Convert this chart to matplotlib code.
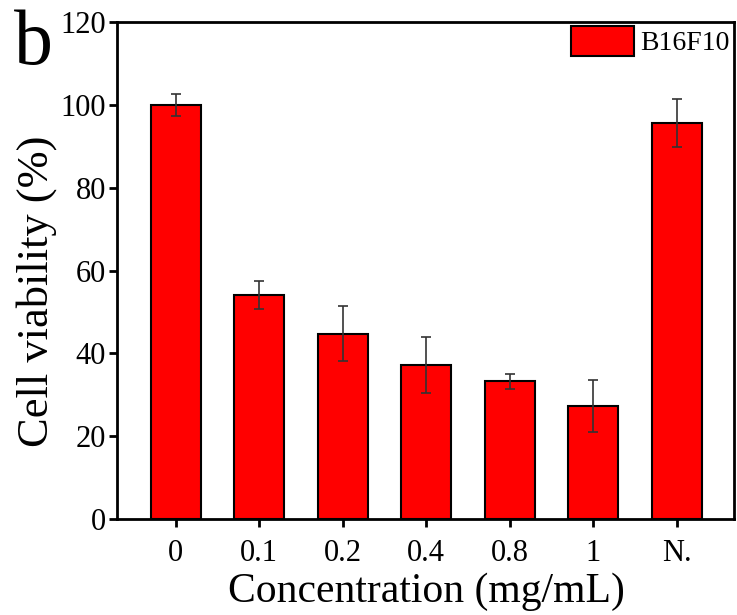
import numpy as np
import matplotlib
matplotlib.use('Agg')
import matplotlib.pyplot as plt

plt.rcParams['font.family'] = ['Liberation Serif', 'DejaVu Serif']

# Concentrations and measured viability (mean ± sd)
labels = ['0', '0.1', '0.2', '0.4', '0.8', '1', 'N.']
viability = [100.0, 54.1, 44.8, 37.2, 33.3, 27.3, 95.7]
errors = [2.6, 3.4, 6.7, 6.8, 1.8, 6.2, 5.8]

fig = plt.figure(figsize=(7.37, 6.15), dpi=100)
ax = fig.add_axes([0.159, 0.156, 0.837, 0.808])

x = np.arange(len(labels))
ax.bar(x, viability, width=0.6, color='#ff0000', edgecolor='black', linewidth=1.5,
       label='B16F10', zorder=2)
ax.errorbar(x, viability, yerr=errors, fmt='none', ecolor='#333333', elinewidth=1.2,
            capsize=3.6, capthick=1.2, zorder=3)

ax.set_xlim(-0.70, 6.686)
ax.set_ylim(0, 120)
ax.set_yticks(np.arange(0, 121, 20))
ax.set_xticks(x)
ax.set_xticklabels(labels)
ax.tick_params(axis='both', labelsize=22, width=2, length=6, direction='out')
ax.tick_params(axis='x', pad=8)
ax.tick_params(axis='y', pad=2)
for s in ax.spines.values():
    s.set_linewidth(2)

# axis titles placed directly on the figure
fig.text(0.578, 0.037, 'Concentration (mg/mL)', fontsize=30, ha='center', va='center')
fig.text(0.050, 0.526, 'Cell viability (%)', fontsize=32, ha='center', va='center',
         rotation=90)

ax.legend(loc='upper right', bbox_to_anchor=(1.0, 1.0), frameon=False, fontsize=20,
          handlelength=2.27, handleheight=1.25, borderaxespad=0.0, borderpad=0.15,
          handletextpad=0.25)

fig.text(0.019, 0.985, 'b', fontsize=56, va='top', ha='left')

fig.savefig('out.png', dpi=100)
